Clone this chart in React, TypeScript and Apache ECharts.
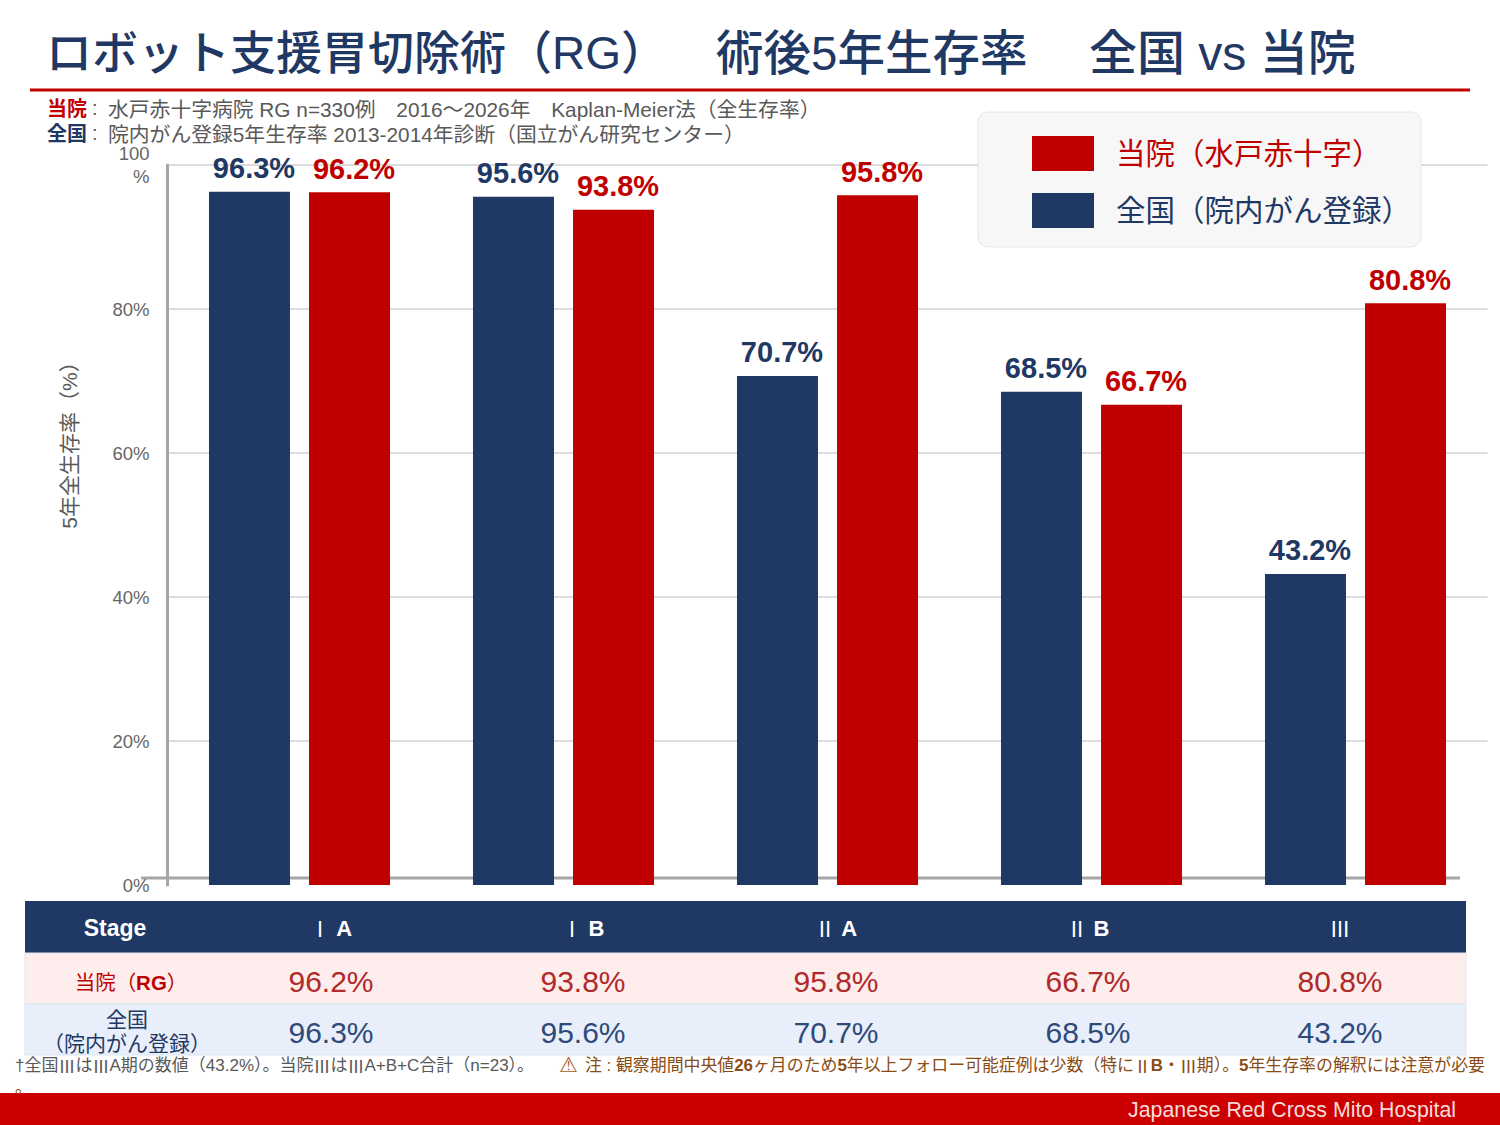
import React, { useEffect, useRef } from "react";
import * as echarts from "echarts";

const FONT = '"Liberation Sans", "Noto Sans CJK JP", sans-serif';
const ROMAN = '"Noto Sans CJK JP", sans-serif';
const NAVY = "#1f3864";
const RED = "#c00000";
const BROWN = "#8a4b14";
const GREY = "#595959";

const stages = ["ⅠA", "ⅠB", "ⅡA", "ⅡB", "Ⅲ"];
const tableHeads = [["Ⅰ", " A"], ["Ⅰ", " B"], ["Ⅱ", " A"], ["Ⅱ", " B"], ["Ⅲ", ""]];
const nationalValues = [96.3, 95.6, 70.7, 68.5, 43.2];
const hospitalValues = [96.2, 93.8, 95.8, 66.7, 80.8];
const hospitalName = "当院（水戸赤十字）";
const nationalName = "全国（院内がん登録）";
const titleParts = ["ロボット支援胃切除術（RG）", "術後5年生存率", "全国 vs 当院"];
const sub1 = "水戸赤十字病院 RG n=330例　2016～2026年　Kaplan-Meier法（全生存率）";
const sub2 = "院内がん登録5年生存率 2013-2014年診断（国立がん研究センター）";
const footerText = "Japanese Red Cross Mito Hospital";

const txt = (x: number, y: number, text: string, fontSize: number, fill: string, extra: any = {}) => ({
  type: "text", x, y, silent: true, z: 10,
  style: { text, fontSize, fill, fontFamily: FONT, textAlign: "left", textVerticalAlign: "middle", ...extra },
});
const box = (x: number, y: number, width: number, height: number, fill: string, opts: any = {}, r = 0) => ({
  type: "rect", silent: true, z: 5, shape: { x, y, width, height, r }, style: { fill, ...opts },
});

function buildGraphic() {
  const colX = [331, 583, 836, 1088, 1340];
  const noteRich = (size: number, fill: string) => ({
    n: { fontSize: size, fontFamily: FONT, fill },
    h: { fontSize: size, fontFamily: FONT, fill, fontWeight: "bold" },
    r: { fontSize: size, fontFamily: ROMAN, fill },
  });
  const els: any[] = [
    txt(46, 53, titleParts[0], 46, NAVY, { fontWeight: 500 }),
    txt(716, 53, titleParts[1], 47.5, NAVY, { fontWeight: 500 }),
    txt(1089, 53, titleParts[2], 48, NAVY, { fontWeight: 500 }),
    { type: "line", silent: true, z: 5, shape: { x1: 30, y1: 90, x2: 1470, y2: 90 }, style: { stroke: RED, lineWidth: 3 } },
    txt(47, 109, "当院", 20, RED, { fontWeight: "bold" }),
    txt(92, 108, ":", 20, GREY),
    txt(108, 109, sub1, 20.8, GREY),
    txt(47, 134, "全国", 20, NAVY, { fontWeight: "bold" }),
    txt(92, 133, ":", 20, GREY),
    txt(108, 134, sub2, 20.8, GREY),
    // legend panel
    box(978, 112, 443, 135, "#f7f7f7", { stroke: "#e6e6e6", lineWidth: 1 }, 10),
    // x-axis rule
    { type: "line", silent: true, z: 0, shape: { x1: 141, y1: 878, x2: 1460, y2: 878 }, style: { stroke: "#a6a6a6", lineWidth: 3 } },
    // table
    box(25, 901, 1441, 52, NAVY),
    box(25, 953, 1441, 51, "#fdeded", { stroke: "#e6e6ee", lineWidth: 1 }),
    box(25, 1004, 1441, 51, "#e8effb", { stroke: "#dbe3f2", lineWidth: 1 }),
    txt(115, 928, "Stage", 23, "#ffffff", { fontWeight: "bold", textAlign: "center" }),
    txt(131, 982, `{a|当院（}{b|RG}{a|）}`, 20.5, RED, {
      textAlign: "center",
      rich: { a: { fontSize: 20.5, fontFamily: FONT, fill: RED }, b: { fontSize: 20.5, fontFamily: FONT, fill: RED, fontWeight: "bold" } },
    }),
    txt(127, 1019, "全国", 21, NAVY, { textAlign: "center" }),
    txt(127, 1043, "（院内がん登録）", 21, NAVY, { textAlign: "center" }),
    txt(15, 1065, "{n|†全国}{r|Ⅲ}{n|は}{r|Ⅲ}{n|A期の数値（43.2%）。当院}{r|Ⅲ}{n|は}{r|Ⅲ}{n|A+B+C合計（n=23）。}", 17, GREY, { rich: noteRich(17, GREY) }),
    txt(559, 1065, "⚠", 21, "#a5562a", { fontFamily: '"DejaVu Sans"' }),
    txt(585, 1065, "{n|注 : 観察期間中央値}{h|26}{n|ヶ月のため}{h|5}{n|年以上フォロー可能症例は少数（特に}{r|Ⅱ}{h|B}{n|・}{r|Ⅲ}{n|期）。}{h|5}{n|年生存率の解釈には注意が必要}", 16.9, BROWN, { rich: noteRich(16.9, BROWN) }),
    txt(15, 1087, "。", 17, BROWN),
    box(0, 1093, 1500, 32, "#cc0000"),
    txt(1456, 1110, footerText, 21.3, "#f6dcdc", { textAlign: "right" }),
  ];
  tableHeads.forEach((h, i) => {
    els.push(txt(colX[i], 928, h[1] ? `{r|${h[0]}}{b|${h[1]}}` : `{r|${h[0]}}`, 22, "#ffffff", {
      textAlign: "center",
      rich: {
        r: { fontSize: 21, fontFamily: ROMAN, fill: "#ffffff" },
        b: { fontSize: 22, fontFamily: FONT, fill: "#ffffff", fontWeight: "bold" },
      },
    }));
    els.push(txt(colX[i], 981, `${hospitalValues[i].toFixed(1)}%`, 30, "#b02a2a", { textAlign: "center" }));
    els.push(txt(colX[i], 1032, `${nationalValues[i].toFixed(1)}%`, 30, "#2f4a78", { textAlign: "center" }));
  });
  return els;
}

export default function App() {
  const ref = useRef<HTMLDivElement>(null);
  useEffect(() => {
    document.body.style.margin = "0";
    const chart = echarts.init(ref.current!, undefined, { renderer: "svg" });
    const barLabel = (color: string) => ({
      show: true, position: "top" as const, distance: 7, offset: [4.5, -2], color,
      fontSize: 29, fontWeight: "bold" as const, fontFamily: FONT,
      formatter: (p: any) => `${Number(p.value).toFixed(1)}%`,
    });
    chart.setOption({
      animation: false,
      backgroundColor: "#ffffff",
      textStyle: { fontFamily: FONT },
      grid: { left: 167.5, width: 1320, top: 165, height: 720, containLabel: false },
      legend: {
        orient: "vertical", left: 1032, top: 136, padding: 0, itemGap: 22, itemWidth: 62, itemHeight: 35,
        icon: "rect", selectedMode: false, z: 6,
        data: [
          { name: hospitalName, textStyle: { color: RED } },
          { name: nationalName, textStyle: { color: NAVY } },
        ],
        textStyle: { fontSize: 29.5, fontFamily: FONT, padding: [0, 0, 0, 17] },
      },
      xAxis: {
        type: "category", data: stages,
        axisLine: { show: false }, axisTick: { show: false }, axisLabel: { show: false },
      },
      yAxis: {
        type: "value", min: 0, max: 100, interval: 20,
        name: "5年全生存率（%）", nameLocation: "middle", nameGap: 88, nameRotate: 90,
        nameTextStyle: { fontSize: 21, color: GREY, fontFamily: FONT, padding: [0, 0, 0, 170] },
        axisLine: { show: true, lineStyle: { color: "#a6a6a6", width: 3 } },
        axisTick: { show: false },
        axisLabel: {
          margin: 18, fontSize: 18.5, color: "#666666", fontFamily: FONT, lineHeight: 23,
          formatter: (v: number) => (v === 100 ? "100\n%" : `${v}%`),
        },
        splitLine: { show: true, showMinLine: false, lineStyle: { color: "#dddddd", width: 2 } },
      },
      series: [
        { name: nationalName, type: "bar", data: nationalValues, barWidth: 81, barGap: "23.5%", itemStyle: { color: NAVY }, label: barLabel(NAVY) },
        { name: hospitalName, type: "bar", data: hospitalValues, barWidth: 81, barGap: "23.5%", itemStyle: { color: RED }, label: barLabel(RED) },
      ],
      graphic: { elements: buildGraphic() },
    });
    return () => chart.dispose();
  }, []);
  return <div ref={ref} style={{ position: "absolute", left: 0, top: 0, width: 1500, height: 1125 }} />;
}
